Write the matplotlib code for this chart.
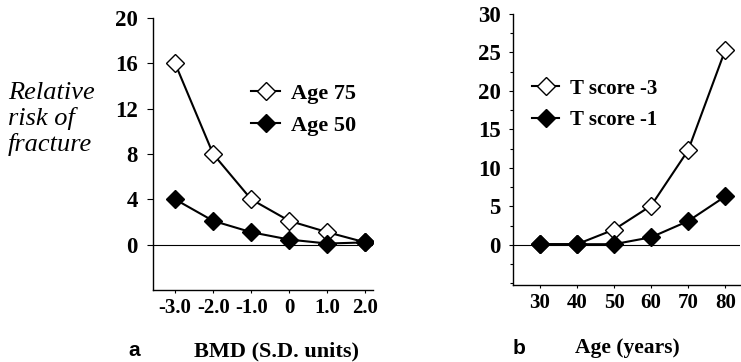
import matplotlib.pyplot as plt
from matplotlib.ticker import MultipleLocator

# panel a: relative risk vs BMD
bmd = [-3.0, -2.0, -1.0, 0.0, 1.0, 2.0]
age75 = [16.0, 8.0, 4.0, 2.1, 1.1, 0.2]
age50 = [4.0, 2.1, 1.1, 0.45, 0.1, 0.2]
bmd_labels = ["-3.0", "-2.0", "-1.0", "0", "1.0", "2.0"]

# panel b: relative risk vs age
age = [30, 40, 50, 60, 70, 80]
tscore3 = [0.1, 0.1, 2.0, 5.1, 12.3, 25.3]
tscore1 = [0.1, 0.1, 0.1, 1.0, 3.1, 6.3]

serif = "Liberation Serif"

fig = plt.figure(figsize=(7.41, 3.62), dpi=100)

ax1 = fig.add_axes([153 / 741, 1 - 290 / 362, 220 / 741, 272 / 362])
ax2 = fig.add_axes([513 / 741, 1 - 285 / 362, 227 / 741, 271 / 362])


def style(ax, ylen, ypad):
    for s in ["top", "right"]:
        ax.spines[s].set_visible(False)
    ax.spines["left"].set_linewidth(1.0)
    ax.spines["bottom"].set_linewidth(1.0)
    ax.tick_params(axis="y", direction="out", length=ylen, width=0.8, pad=ypad)
    ax.tick_params(axis="x", direction="out", length=2, width=0.8, pad=4)
    ax.axhline(0, color="black", lw=0.8)
    for lab in ax.get_yticklabels():
        lab.set_fontproperties(dict(family=serif, weight="bold", size=16.5))
    for lab in ax.get_xticklabels():
        lab.set_fontproperties(dict(family=serif, weight="bold", size=15))


mk = dict(marker="D", markersize=9, lw=1.5, color="black", markeredgewidth=1.0)

ax1.plot(bmd, age75, markerfacecolor="white", label="Age 75", zorder=3, **mk)
ax1.plot(bmd, age50, markerfacecolor="black", label="Age 50", zorder=4, **mk)
ax1.set_xlim(-3.58, 2.2)
ax1.set_ylim(-4, 20)
ax1.set_yticks([0, 4, 8, 12, 16, 20])
ax1.set_xticks(bmd)
ax1.set_xticklabels(bmd_labels)
style(ax1, 4, 7)
ax1.legend(loc="upper left", bbox_to_anchor=(0.396, 0.80), frameon=False,
           prop=dict(family=serif, weight="bold", size=16),
           handlelength=1.3, handletextpad=0.5, labelspacing=0.5, borderpad=0)

ax2.plot(age, tscore3, markerfacecolor="white", label="T score -3", zorder=3, **mk)
ax2.plot(age, tscore1, markerfacecolor="black", label="T score -1", zorder=4, **mk)
ax2.set_xlim(22.7, 84.0)
ax2.set_ylim(-5.2, 30)
ax2.set_yticks([0, 5, 10, 15, 20, 25, 30])
ax2.yaxis.set_minor_locator(MultipleLocator(2.5))
ax2.set_xticks(age)
style(ax2, 3, 6)
ax2.tick_params(axis="y", which="minor", length=2, width=0.8)
ax2.legend(loc="upper left", bbox_to_anchor=(0.038, 0.80), frameon=False,
           prop=dict(family=serif, weight="bold", size=15),
           handlelength=1.3, handletextpad=0.5, labelspacing=0.55, borderpad=0)

fig.text(8 / 741, 1 - 119 / 362, "Relative\nrisk of\nfracture", family=serif,
         style="italic", size=19, va="center", ha="left", linespacing=1.15)

fig.text(194 / 741, 1 - 351 / 362, "BMD (S.D. units)", family=serif,
         weight="bold", size=16, ha="left", va="center")
fig.text(128 / 741, 1 - 351 / 362, "a", family="Liberation Sans",
         weight="bold", size=15, ha="left", va="center")
fig.text(575 / 741, 1 - 348 / 362, "Age (years)", family=serif,
         weight="bold", size=15.5, ha="left", va="center")
fig.text(513 / 741, 1 - 348 / 362, "b", family="Liberation Sans",
         weight="bold", size=15, ha="left", va="center")

fig.savefig("out.png", dpi=100)
